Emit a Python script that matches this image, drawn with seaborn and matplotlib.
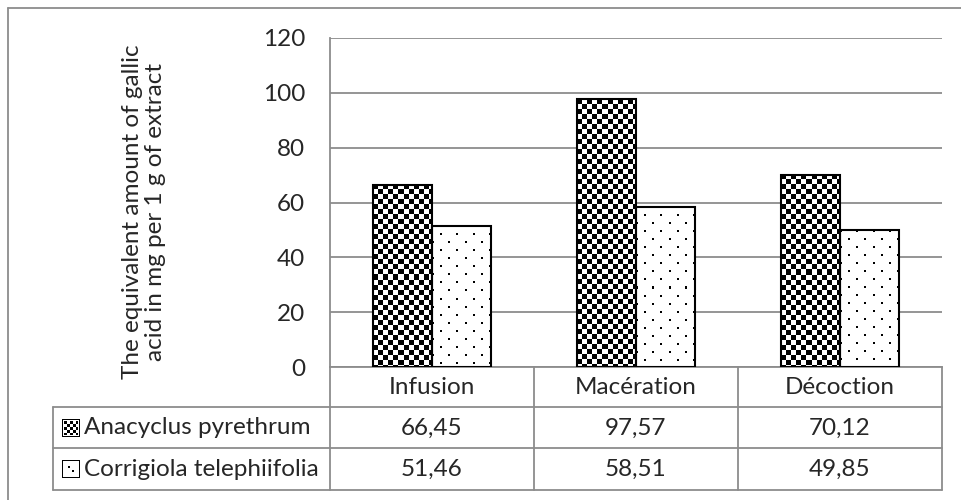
import numpy as np
import pandas as pd
import matplotlib
matplotlib.use('Agg')
import matplotlib.pyplot as plt
import seaborn as sns
from matplotlib.lines import Line2D

# Données
methods = ['Infusion', 'Macération', 'Décoction']
species = ['Anacyclus pyrethrum', 'Corrigiola telephiifolia']
anacyclus = [66.45, 97.57, 70.12]
corrigiola = [51.46, 58.51, 49.85]
y_ticks = [0, 20, 40, 60, 80, 100, 120]

W, H = 962, 500
GRID = '#8c8c8c'
FS = 17.5


def fx(x):
    return x / W


def fy(y):
    return 1 - y / H


def pattern(kind, w, h, cell=5):
    yy, xx = np.mgrid[0:h, 0:w]
    if kind == 'checker':
        return ((xx // cell + yy // cell) % 2).astype(float)
    arr = np.ones((h, w))
    shift = 8 * ((yy // 8) % 2)
    dots = (yy % 8 < 2) & ((xx + shift) % 16 < 2)
    arr[dots] = 0
    return arr


df = pd.DataFrame({
    'method': methods * 2,
    'value': anacyclus + corrigiola,
    'species': [species[0]] * 3 + [species[1]] * 3,
})

sns.set_style('white')
plt.rcParams['font.family'] = ['Lato', 'DejaVu Sans']

fig = plt.figure(figsize=(W / 100, H / 100), dpi=100)
ax = fig.add_axes([fx(330), fy(367), (942 - 330) / W, (367 - 38) / H])

sns.barplot(data=df, x='method', y='value', hue='species', palette=['white', 'white'],
            width=0.58, errorbar=None, legend=False, ax=ax,
            edgecolor='black', linewidth=1.5)

ax.set_xlim(-0.5, 2.5)
ax.set_ylim(0, 120)
ax.set_yticks(y_ticks)
ax.set_xticks([])
ax.set_xlabel('')
ax.set_axisbelow(True)
ax.yaxis.grid(True, color=GRID, linewidth=1.3)
ax.tick_params(axis='y', length=0, pad=18, labelsize=FS)
for s in ['top', 'right']:
    ax.spines[s].set_visible(False)
for s in ['left', 'bottom']:
    ax.spines[s].set_color(GRID)
    ax.spines[s].set_linewidth(1.3)

ylab = ax.set_ylabel('The equivalent amount of gallic\nacid in mg per 1 g of extract',
                     fontsize=FS, linespacing=1.1)
ylab.set_va('center')
ax.yaxis.set_label_coords((144 - 330) / 612, (367 - 212) / 329)

# Textures des barres
kinds = ['checker', 'dots']
for kind, cont in zip(kinds, ax.containers):
    for patch in cont:
        x0, y0 = patch.get_x(), patch.get_y()
        w, h = patch.get_width(), patch.get_height()
        (p0x, p0y), (p1x, p1y) = ax.transData.transform([(x0, y0), (x0 + w, y0 + h)])
        arr = pattern(kind, max(int(round(p1x - p0x)), 1), max(int(round(p1y - p0y)), 1))
        ax.imshow(arr, extent=(x0, x0 + w, y0, y0 + h), cmap='gray', vmin=0, vmax=1,
                  interpolation='nearest', aspect='auto', zorder=2, clip_path=patch)
        patch.set_facecolor('none')
        patch.set_zorder(3)
ax.set_xlim(-0.5, 2.5)
ax.set_ylim(0, 120)

# Tableau de données
col_px = [ax.transData.transform((b, 0))[0] for b in [-0.5, 0.5, 1.5, 2.5]]
row_lines = [407, 448, 490]
line_kw = dict(color=GRID, linewidth=1.3, transform=fig.transFigure)
for y in row_lines:
    fig.add_artist(Line2D([fx(53), fx(col_px[-1])], [fy(y), fy(y)], **line_kw))
for x in col_px:
    fig.add_artist(Line2D([fx(x), fx(x)], [fy(367), fy(490)], **line_kw))
fig.add_artist(Line2D([fx(53), fx(53)], [fy(407), fy(490)], **line_kw))

for i, m in enumerate(methods):
    cx = ax.transData.transform((i, 0))[0]
    fig.text(fx(cx), fy(387), m, ha='center', va='center', fontsize=FS)
    for vals, ry in [(anacyclus, 428), (corrigiola, 469)]:
        fig.text(fx(cx), fy(ry), f'{vals[i]:.2f}'.replace('.', ','),
                 ha='center', va='center', fontsize=FS)

# En-têtes de ligne avec clés
for kind, name, ry in [('checker', species[0], 428), ('dots', species[1], 469)]:
    if kind == 'checker':
        key = pattern(kind, 14, 14, cell=3)
        key = np.pad(key, 1, constant_values=1)
    else:
        key = np.ones((16, 16))
        key[5:7, 5:7] = 0
        key[9:11, 9:11] = 0
    key = np.pad(key, 1, constant_values=0)
    fig.figimage(key, xo=62, yo=H - ry - 9, cmap='gray', vmin=0, vmax=1, zorder=5)
    fig.text(fx(84), fy(ry), name, ha='left', va='center', fontsize=FS)

# Cadre extérieur
fig.add_artist(Line2D([fx(8), fx(8)], [fy(8), 0], **line_kw))
fig.add_artist(Line2D([fx(8), 1], [fy(8), fy(8)], **line_kw))

fig.savefig('out.png', dpi=100)
